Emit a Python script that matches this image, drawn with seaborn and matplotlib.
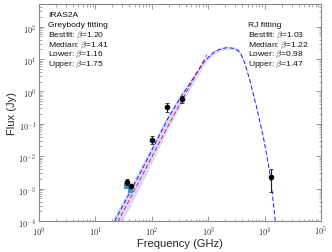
import numpy as np
import seaborn as sns
import matplotlib
matplotlib.use("Agg")
import matplotlib.pyplot as plt
from matplotlib.ticker import FuncFormatter, LogLocator, NullFormatter

# ---------------------------
# Data
# ---------------------------

# greybody model (blue dashed) and its uncertainty band
grey_freq = [22, 68, 192, 313, 470, 870, 1300, 1700, 2210, 2820, 3370,
             3870, 4430, 5430, 7500, 9600, 12600, 15500]
grey_flux = [1.0e-4, 4.1e-3, 0.144, 0.60, 1.74, 9.0, 17.1, 20.9, 22.7, 21.4,
             18.6, 13.1, 7.6, 2.3, 0.24, 0.035, 2.5e-3, 9.3e-5]

band_freq = [19.5, 22, 68, 192, 313, 470, 870, 1300, 1700, 2210, 2820, 3370,
             3870, 4430, 5430, 7500, 9600, 12600, 15500]
band_upper = [1.0e-4, 1.5e-4, 6.1e-3, 0.199, 0.79, 2.19, 10.8, 19.6, 23.5,
              25.5, 24.0, 20.9, 14.7, 8.5, 2.6, 0.27, 0.039, 2.8e-3, 1.04e-4]
band_lower = [2.2e-5, 3.4e-5, 1.56e-3, 0.067, 0.34, 1.15, 7.2, 14.9, 18.6,
              20.2, 19.1, 16.6, 11.7, 6.8, 2.05, 0.21, 0.031, 2.2e-3, 8.3e-5]

# RJ power-law fit (red dashed)
rj_freq = [25, 224, 940]
rj_flux = [9.5e-5, 0.138, 13.5]

# observed fluxes
obs_freq = [36, 42, 100, 187, 336, 12770]
obs_flux = [1.6e-3, 1.17e-3, 0.032, 0.33, 0.57, 2.25e-3]
obs_err_lo = [3.5e-4, 1.3e-4, 0.008, 0.09, 0.14, 1.45e-3]
obs_err_hi = [3.8e-4, 1.4e-4, 0.011, 0.12, 0.18, 1.85e-3]

# interferometric points (cyan squares)
int_freq = [36, 42]
int_flux = [1.2e-3, 9.0e-4]

left_text = ["IRAS2A", "Greybody fitting", r"Bestfit: $\beta$=1.20",
             r"Median: $\beta$=1.41", r"Lower: $\beta$=1.16",
             r"Upper: $\beta$=1.75"]
right_text = ["RJ fitting", r"Bestfit: $\beta$=1.03", r"Median: $\beta$=1.22",
              r"Lower: $\beta$=0.98", r"Upper: $\beta$=1.47"]

# ---------------------------
# Style
# ---------------------------

sns.set_theme(style="ticks")
plt.rcParams["font.family"] = ["Liberation Sans", "DejaVu Sans"]
plt.rcParams["mathtext.fontset"] = "cm"

fig = plt.figure(figsize=(3.32, 2.53), dpi=100)
ax = fig.add_axes([0.1175, 0.1225, 0.8495, 0.8575])

# ---------------------------
# Plot
# ---------------------------

ax.fill_between(band_freq, band_lower, band_upper, color="#3333ff",
                alpha=0.2, linewidth=0)

sns.lineplot(x=grey_freq, y=grey_flux, ax=ax, color="#0000ff",
             linewidth=0.6, linestyle=(0, (5, 3)))
sns.lineplot(x=rj_freq, y=rj_flux, ax=ax, color="#ff0000",
             linewidth=0.6, linestyle=(0, (5, 3)))

sns.scatterplot(x=int_freq, y=int_flux, ax=ax, marker="s", s=14,
                color="#3399cc", edgecolor="none", zorder=3)

ax.errorbar(obs_freq, obs_flux, yerr=[obs_err_lo, obs_err_hi], fmt="o",
            color="black", markersize=3, elinewidth=0.8, capsize=1.5,
            capthick=0.6, ecolor="#222222", zorder=4)

# ---------------------------
# Axes
# ---------------------------

ax.set_xscale("log")
ax.set_yscale("log")
ax.set_xlim(1e0, 1e5)
ax.set_ylim(1e-4, 5e2)

fmt = FuncFormatter(lambda v, _: rf"$10^{{{int(round(np.log10(v)))}}}$")
for axis in (ax.xaxis, ax.yaxis):
    axis.set_major_locator(LogLocator(base=10, numticks=12))
    axis.set_minor_locator(LogLocator(base=10, subs=np.arange(2, 10), numticks=12))
    axis.set_major_formatter(fmt)
    axis.set_minor_formatter(NullFormatter())

ax.tick_params(which="both", direction="in", top=True, right=True,
               color="#888888", labelsize=6, labelcolor="#333333", pad=2)
ax.tick_params(which="major", length=3.5, width=0.6)
ax.tick_params(which="minor", length=1.8, width=0.5)

for spine in ax.spines.values():
    spine.set_color("#888888")
    spine.set_linewidth(0.8)

ax.set_xlabel("Frequency (GHz)", fontsize=8, labelpad=1)
ax.set_ylabel("Flux (Jy)", fontsize=8, labelpad=1)

# ---------------------------
# Annotations
# ---------------------------

baselines = [17, 27, 37, 46.7, 56.3, 66]
for txt, yb in zip(left_text, baselines):
    fig.text(48 / 332, 1 - yb / 253, txt, fontsize=6.1, va="baseline",
             ha="left", color="#111111")
for txt, yb in zip(right_text, baselines[1:]):
    fig.text(248 / 332, 1 - yb / 253, txt, fontsize=6.1, va="baseline",
             ha="left", color="#111111")

fig.savefig("out.png", dpi=100)
